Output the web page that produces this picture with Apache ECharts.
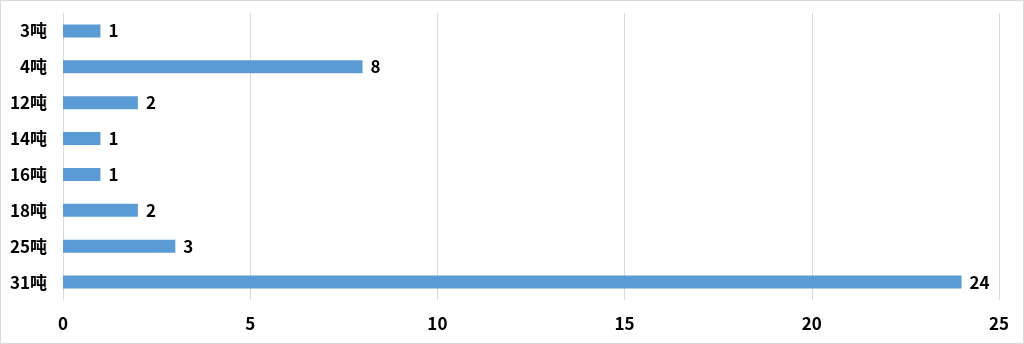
<!DOCTYPE html>
<html><head><meta charset="utf-8">
<script src="https://cdn.jsdelivr.net/npm/echarts@6/dist/echarts.min.js"></script>
<style>html,body{margin:0;padding:0;background:#fff}#c{width:1024px;height:344px;box-sizing:border-box;border:1px solid #d9d9d9}</style>
</head><body><div id="c"></div>
<script>
const categories = ['3吨','4吨','12吨','14吨','16吨','18吨','25吨','31吨'];
const values = [1,8,2,1,1,2,3,24];
const xTicks = [0,5,10,15,20,25];
const font = '"Noto Sans CJK SC", "Noto Sans", sans-serif';
const chart = echarts.init(document.getElementById('c'));
chart.setOption({
  animation:false,
  grid:{left:62,right:24,top:12,bottom:43,containLabel:false},
  xAxis:{type:'value',min:xTicks[0],max:xTicks[xTicks.length-1],interval:5,
    axisLine:{show:false},axisTick:{show:false},
    splitLine:{show:true,lineStyle:{color:'#d9d9d9',width:1}},
    axisLabel:{color:'#000',fontWeight:'bold',fontSize:17,fontFamily:font,margin:15}},
  yAxis:{type:'category',data:categories,inverse:true,
    axisLine:{show:true,lineStyle:{color:'#d9d9d9'}},axisTick:{show:false},
    axisLabel:{color:'#000',fontWeight:'bold',fontSize:17,fontFamily:font,margin:16}},
  series:[{type:'bar',data:values,barWidth:13,
    itemStyle:{color:'#5b9bd5'},
    label:{show:true,position:'right',distance:8,color:'#000',fontWeight:'bold',fontSize:17,fontFamily:font}}]
});
</script></body></html>
